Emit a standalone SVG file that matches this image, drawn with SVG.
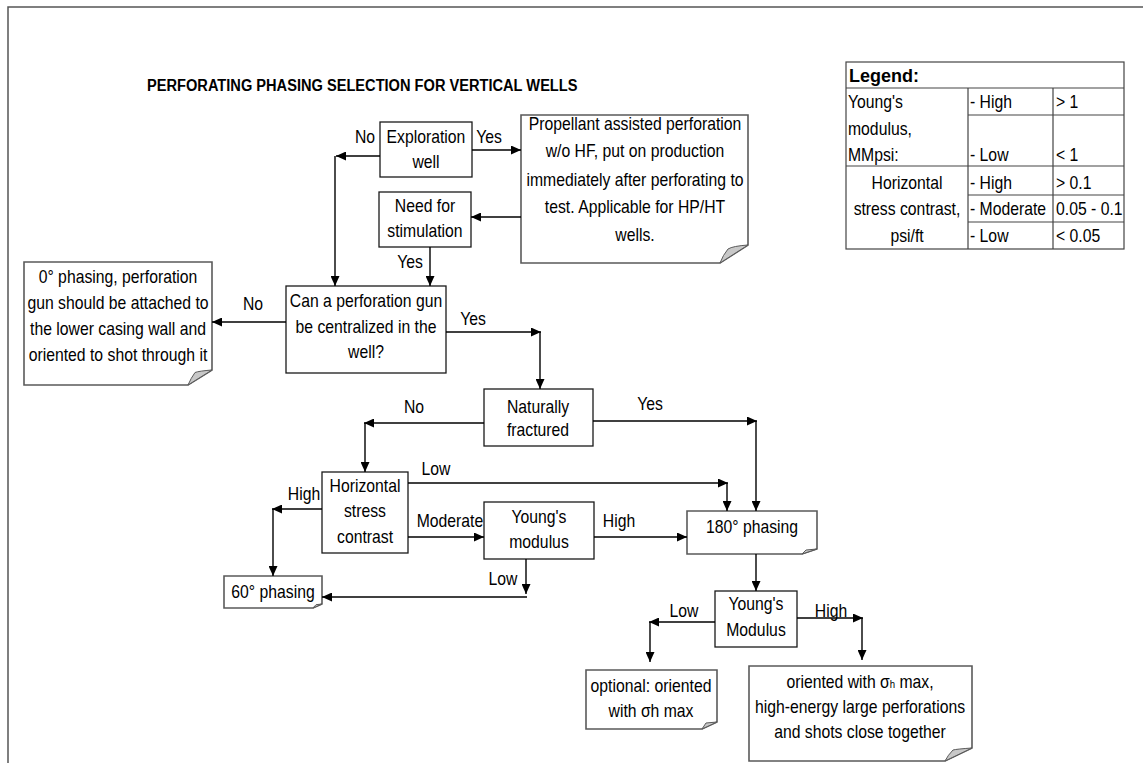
<svg xmlns="http://www.w3.org/2000/svg" width="1143" height="763" viewBox="0 0 1143 763">
  <defs>
    <style>
      .t{font-family:"Liberation Sans",Arial,Helvetica,sans-serif;font-size:18px;fill:#000;text-anchor:middle}
      .s{text-anchor:start}
      .lg{font-family:"Liberation Sans",Arial,Helvetica,sans-serif;font-size:18px;font-weight:bold;fill:#000}
      .box{fill:#fff;stroke:#1a1a1a;stroke-width:1.3}
      .note{fill:#fff;stroke:#5a5a5a;stroke-width:1.6}
      .curl{fill:#c8c8c8;stroke:#5a5a5a;stroke-width:1}
      .wire{fill:none;stroke:#000;stroke-width:1.4;marker-end:url(#ah)}
      .grid{fill:none;stroke:#444;stroke-width:1.2}
      .frame{fill:none;stroke:#555;stroke-width:1.5}
    </style>
    <marker id="ah" markerUnits="userSpaceOnUse" markerWidth="10" markerHeight="9" refX="10" refY="4.5" orient="auto">
      <path d="M0,0 L10,4.5 L0,9 Z" fill="#000"/>
    </marker>
  </defs>

  <rect width="1143" height="763" fill="#fff"/>
  <!-- page frame (top and left edges) -->
  <path class="frame" d="M8,763 V7 H1143"/>

  <!-- title -->
  <text class="t s" transform="translate(147 0) scale(.86 1)" x="0" y="91" style="font-size:17px;font-weight:bold">PERFORATING PHASING SELECTION FOR VERTICAL WELLS</text>

  <!-- legend table -->
  <g id="legend">
    <rect class="grid" x="846" y="62" width="278" height="187"/>
    <path class="grid" d="M846,88 H1124 M968,88 V249 M1053,88 V249 M968,115 H1124 M846,166 H1124 M968,195 H1124 M968,222 H1124"/>
    <text class="lg" x="849" y="82">Legend:</text>
    <g class="t s">
      <text transform="translate(848 0) scale(.875 1)"><tspan x="0" y="108">Young's</tspan><tspan x="0" y="135">modulus,</tspan><tspan x="0" y="161">MMpsi:</tspan></text>
      <text transform="translate(970 0) scale(.875 1)"><tspan x="0" y="108">- High</tspan><tspan x="0" y="161">- Low</tspan><tspan x="0" y="189">- High</tspan><tspan x="0" y="215">- Moderate</tspan><tspan x="0" y="242">- Low</tspan></text>
      <text transform="translate(1056 0) scale(.875 1)"><tspan x="0" y="108">&gt; 1</tspan><tspan x="0" y="161">&lt; 1</tspan><tspan x="0" y="189">&gt; 0.1</tspan><tspan x="0" y="215">0.05 - 0.1</tspan><tspan x="0" y="242">&lt; 0.05</tspan></text>
    </g>
    <text class="t" transform="translate(907 0) scale(.875 1)"><tspan x="0" y="189">Horizontal</tspan><tspan x="0" y="215">stress contrast,</tspan><tspan x="0" y="242">psi/ft</tspan></text>
  </g>

  <!-- decision and result nodes -->
  <g id="exploration">
    <rect class="box" x="380" y="122" width="92" height="55"/>
    <text class="t" transform="translate(426 0) scale(.875 1)"><tspan x="0" y="143">Exploration</tspan><tspan x="0" y="168">well</tspan></text>
  </g>

  <g id="propellant">
    <path class="note" d="M521,115 H748 V245 L720,263 H521 Z"/>
    <path class="curl" d="M748,245 Q733,246 728,249 Q723,255 720,263 Z"/>
    <text class="t" transform="translate(635 0) scale(.875 1)"><tspan x="0" y="130">Propellant assisted perforation</tspan><tspan x="0" y="157">w/o HF, put on production</tspan><tspan x="0" y="186">immediately after perforating to</tspan><tspan x="0" y="213">test. Applicable for HP/HT</tspan><tspan x="0" y="241">wells.</tspan></text>
  </g>

  <g id="stimulation">
    <rect class="box" x="379" y="192" width="92" height="55"/>
    <text class="t" transform="translate(425 0) scale(.875 1)"><tspan x="0" y="212">Need for</tspan><tspan x="0" y="237">stimulation</tspan></text>
  </g>

  <g id="centralized">
    <rect class="box" x="286" y="286" width="160" height="87"/>
    <text class="t" transform="translate(366 0) scale(.875 1)"><tspan x="0" y="307">Can a perforation gun</tspan><tspan x="0" y="333">be centralized in the</tspan><tspan x="0" y="358">well?</tspan></text>
  </g>

  <g id="zero-phasing">
    <path class="note" d="M24,262 H212 V370 L188,385 H24 Z"/>
    <path class="curl" d="M212,370 Q199,371 195,372.5 Q191,378 188,385 Z"/>
    <text class="t" transform="translate(118 0) scale(.875 1)"><tspan x="0" y="283">0° phasing, perforation</tspan><tspan x="0" y="309">gun should be attached to</tspan><tspan x="0" y="335">the lower casing wall and</tspan><tspan x="0" y="361">oriented to shot through it</tspan></text>
  </g>

  <g id="naturally-fractured">
    <rect class="box" x="484" y="389" width="109" height="57"/>
    <text class="t" transform="translate(538 0) scale(.875 1)"><tspan x="0" y="413">Naturally</tspan><tspan x="0" y="436">fractured</tspan></text>
  </g>

  <g id="stress-contrast">
    <rect class="box" x="322" y="472" width="86" height="81"/>
    <text class="t" transform="translate(365 0) scale(.875 1)"><tspan x="0" y="492">Horizontal</tspan><tspan x="0" y="517">stress</tspan><tspan x="0" y="543">contrast</tspan></text>
  </g>

  <g id="youngs-modulus">
    <rect class="box" x="484" y="502" width="110" height="57"/>
    <text class="t" transform="translate(539 0) scale(.875 1)"><tspan x="0" y="523">Young's</tspan><tspan x="0" y="548">modulus</tspan></text>
  </g>

  <g id="sixty-phasing">
    <path class="note" d="M224,576 H322 V604 L313,608 H224 Z"/>
    <path class="curl" d="M322,604 L316,604.7 L313,608 Z"/>
    <text class="t" transform="translate(273 0) scale(.875 1)" x="0" y="598">60° phasing</text>
  </g>

  <g id="one-eighty-phasing">
    <path class="note" d="M687,511 H817 V549 L802,554 H687 Z"/>
    <path class="curl" d="M817,549 L806,550 L802,554 Z"/>
    <text class="t" transform="translate(752 0) scale(.875 1)" x="0" y="533">180° phasing</text>
  </g>

  <g id="youngs-modulus-2">
    <rect class="box" x="715" y="591" width="82" height="56"/>
    <text class="t" transform="translate(756 0) scale(.875 1)"><tspan x="0" y="610">Young's</tspan><tspan x="0" y="636">Modulus</tspan></text>
  </g>

  <g id="optional-oriented">
    <path class="note" d="M586,670 H717 V722 L702,729 H586 Z"/>
    <path class="curl" d="M717,722 L706,723 L702,729 Z"/>
    <text class="t" transform="translate(651 0) scale(.875 1)"><tspan x="0" y="692">optional: oriented</tspan><tspan x="0" y="717">with σh max</tspan></text>
  </g>

  <g id="high-energy">
    <path class="note" d="M749,666 H972 V748 L945,761 H749 Z"/>
    <path class="curl" d="M972,748 Q957,749 953,750 Q948,755 945,761 Z"/>
    <text class="t" transform="translate(860 0) scale(.875 1)"><tspan x="0" y="688">oriented with σ<tspan style="font-size:11px">h</tspan> max,</tspan><tspan x="0" y="713">high-energy large perforations</tspan><tspan x="0" y="738">and shots close together</tspan></text>
  </g>

  <!-- connectors -->
  <g id="connectors">
    <path class="wire" d="M380,156 H336"/>
    <path class="wire" d="M335,156 V286"/>
    <path class="wire" d="M472,150 H521"/>
    <path class="wire" d="M521,217 H471"/>
    <path class="wire" d="M430,247 V286"/>
    <path class="wire" d="M286,322 H212"/>
    <path class="wire" d="M446,332 H541"/>
    <path class="wire" d="M540,332 V389"/>
    <path class="wire" d="M484,423 H364"/>
    <path class="wire" d="M365,423 V472"/>
    <path class="wire" d="M593,421 H757"/>
    <path class="wire" d="M756,421 V511"/>
    <path class="wire" d="M408,483 H728"/>
    <path class="wire" d="M727,483 V511"/>
    <path class="wire" d="M322,509 H272"/>
    <path class="wire" d="M273,509 V576"/>
    <path class="wire" d="M408,537 H484"/>
    <path class="wire" d="M594,537 H687"/>
    <path class="wire" d="M526,559 V594"/>
    <path class="wire" d="M527,597 H322"/>
    <path class="wire" d="M756,554 V591"/>
    <path class="wire" d="M715,622 H649"/>
    <path class="wire" d="M650,622 V662"/>
    <path class="wire" d="M797,618 H863"/>
    <path class="wire" d="M862,618 V660"/>

    <!-- branch labels -->
    <g class="t">
      <text transform="translate(365 0) scale(.875 1)" x="0" y="143">No</text>
      <text transform="translate(489 0) scale(.875 1)" x="0" y="143">Yes</text>
      <text transform="translate(410 0) scale(.875 1)" x="0" y="268">Yes</text>
      <text transform="translate(253 0) scale(.875 1)" x="0" y="310">No</text>
      <text transform="translate(473 0) scale(.875 1)" x="0" y="325">Yes</text>
      <text transform="translate(414 0) scale(.875 1)" x="0" y="413">No</text>
      <text transform="translate(650 0) scale(.875 1)" x="0" y="410">Yes</text>
      <text transform="translate(436 0) scale(.875 1)" x="0" y="475">Low</text>
      <text transform="translate(304 0) scale(.875 1)" x="0" y="500">High</text>
      <text transform="translate(450 0) scale(.875 1)" x="0" y="527">Moderate</text>
      <text transform="translate(619 0) scale(.875 1)" x="0" y="527">High</text>
      <text transform="translate(503 0) scale(.875 1)" x="0" y="585">Low</text>
      <text transform="translate(684 0) scale(.875 1)" x="0" y="617">Low</text>
      <text transform="translate(831 0) scale(.875 1)" x="0" y="617">High</text>
    </g>
  </g>
</svg>
